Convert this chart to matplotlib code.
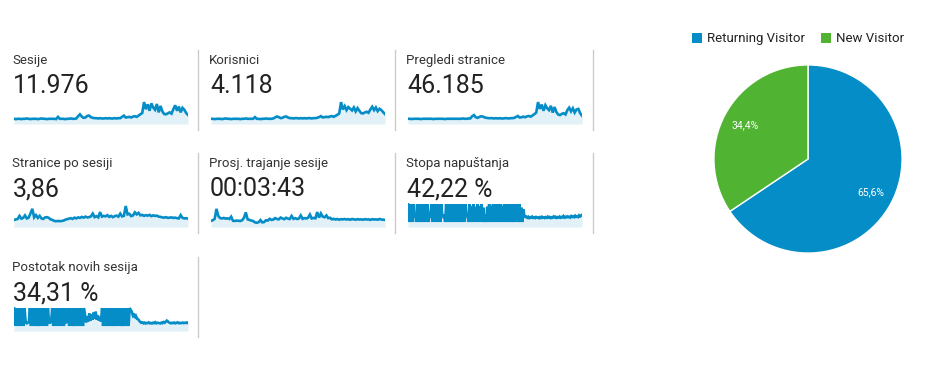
import numpy as np
import matplotlib.pyplot as plt

plt.rcParams['font.family'] = ['Roboto', 'DejaVu Sans']

W, H = 950, 376

# tile labels and headline values
labels = ["Sesije", "Korisnici", "Pregledi stranice",
          "Stranice po sesiji", "Prosj. trajanje sesije", "Stopa napuštanja",
          "Postotak novih sesija"]
values = ["11.976", "4.118", "46.185", "3,86", "00:03:43", "42,22 %", "34,31 %"]

sesije = [10, 9, 10, 10, 9, 10, 10, 11, 10, 9, 10, 10, 10, 9, 10, 11, 10, 10, 9, 10, 10, 10, 10, 9,
          16, 10, 10, 10, 9, 10, 10, 11, 10, 10, 11, 18, 24, 17, 13, 14, 19, 20, 15,
          13, 12, 12, 11, 12, 11, 11, 12, 11, 12, 11, 11, 12, 11, 12, 12,
          16, 20, 14, 15, 16, 14, 17, 18, 16, 20, 24, 28,
          62, 40, 55, 35, 58, 45, 38, 56, 30, 50, 33,
          25, 24, 27, 30, 26,
          40, 52, 35, 48, 30, 44, 38, 28, 22]

korisnici = [10, 10, 9, 10, 10, 10, 9, 10, 11, 10, 10, 9, 10, 10, 10, 10, 9, 10, 10, 11, 10, 10, 10, 10,
             15, 10, 10, 9, 10, 10, 11, 10, 10, 10, 11, 14, 17, 15, 12, 13, 16, 17, 14,
             12, 12, 11, 12, 12, 11, 12, 11, 12, 11, 12, 12, 11, 12, 12, 13,
             15, 18, 14, 15, 16, 15, 17, 18, 16, 19, 22, 26,
             60, 38, 48, 36, 45, 40, 35, 44, 32, 42, 34,
             27, 26, 29, 31, 28,
             38, 46, 36, 44, 33, 40, 36, 30, 24]

pregledi = [10, 10, 9, 10, 10, 10, 10, 9, 10, 10, 10, 10, 10, 10, 9, 10, 10, 10, 10, 10, 9, 10, 10, 10,
            10, 10, 10, 10, 10, 10, 11, 10, 10, 11, 11, 18, 22, 15, 13, 16, 18, 17, 14,
            13, 12, 12, 12, 11, 12, 11, 12, 11, 11, 12, 12, 11, 12, 12, 13,
            16, 19, 14, 15, 17, 15, 18, 19, 17, 21, 25, 30,
            64, 42, 56, 36, 54, 44, 38, 52, 30, 48, 32,
            24, 22, 26, 28, 24,
            38, 46, 34, 44, 30, 40, 42, 28, 20]

stranice_po_sesiji = [3.4, 3.6, 3.8, 5.0, 3.9, 4.2, 5.2, 4.0, 4.3, 6.0, 7.8, 4.4, 5.3, 4.2, 5.0, 4.0,
                      3.8, 4.4, 4.5, 4.2, 3.6, 3.4, 3.0, 2.9, 3.0, 2.9, 3.0, 3.1, 3.5, 3.7, 3.9, 4.1,
                      3.8, 4.3, 4.0, 4.4, 4.2, 4.6, 4.3, 4.7, 4.4, 4.5, 4.8, 5.9, 4.5, 4.9, 4.4, 6.5,
                      4.7, 5.0, 4.8, 5.3, 4.6, 5.0, 4.5, 4.9, 5.1, 4.7, 5.9, 4.8, 5.0, 8.9, 5.6, 5.8,
                      4.9, 5.2, 6.4, 5.6, 6.2, 5.2, 5.4, 5.0, 5.3, 5.1, 5.4, 4.9, 5.2, 5.0, 5.1, 4.7,
                      4.6, 4.4, 4.3, 4.5, 4.2, 4.3, 4.4, 4.2, 4.3, 4.1, 4.0, 5.3, 4.2, 4.0, 4.1, 3.9]

trajanje = [150, 180, 260, 820, 420, 300, 280, 310, 270, 290, 250, 380, 150, 140, 160, 150,
            140, 180, 320, 620, 230, 200, 160, 140, 60, 40, 70, 190, 60, 80, 180, 160,
            260, 200, 220, 300, 250, 230, 330, 280, 240, 320, 270, 250, 420, 260, 300, 250,
            280, 450, 260, 300, 280, 320, 500, 280, 310, 290, 640, 330, 560, 380, 350, 450,
            300, 320, 230, 260, 220, 250, 210, 240, 230, 250, 220, 240, 210, 250, 230, 210,
            240, 220, 230, 210, 240, 220, 230, 200, 240, 220, 230, 210, 250, 220, 210, 200]

stopa_napustanja = [100, 0, 100, 0, 100, 0, 100, 35, 30,
                    0, 100, 0, 100, 0, 100, 0, 100, 0, 100, 0, 100, 0, 40, 35,
                    100, 0, 100, 0, 100, 0, 100, 0, 100, 0, 100, 40, 30, 38,
                    0, 100, 0, 100, 0, 100, 0, 100, 35,
                    0, 100, 0, 100, 40,
                    0, 100, 0, 100, 0, 100, 0, 100, 30, 38,
                    0, 100, 0, 90, 0, 100, 0, 85, 0, 100, 0, 90, 0, 100, 0, 80, 0, 40,
                    0, 85, 0, 100, 0, 90, 0, 100, 35,
                    0, 100, 0, 100, 40,
                    0, 100, 0, 90, 0, 100, 0, 100, 35,
                    0, 100, 0, 100, 0, 40, 100, 0, 100, 40,
                    0, 100, 0, 80, 0, 70,
                    35, 28, 30, 24, 29, 22, 27, 25, 30, 23, 26, 22, 28, 24, 25, 21, 27, 23, 29, 24,
                    26, 22, 27, 24, 30, 25, 28, 22, 26, 24, 31, 26, 29, 23, 27, 25, 30, 24, 28, 26,
                    33, 25, 29, 26, 31, 27, 29, 25, 33, 28, 31, 27, 35, 29, 32, 28, 37, 31, 35, 40]

nove_sesije = [100, 0, 100, 0, 100, 0, 100, 0, 100, 0, 100,
               20, 15, 18, 22,
               100, 0, 100, 0, 100, 0, 100, 25,
               0, 100, 0, 100, 0, 100, 0, 100, 0, 100, 20, 18, 25,
               100, 0, 100, 0, 100, 0, 100, 0, 100, 0, 100, 0, 100, 20, 22,
               100, 0, 100, 0, 100, 0, 25,
               100, 0, 100, 0, 100, 0, 100, 0, 100,
               60, 20, 55, 25, 70, 30, 65, 35, 75, 40, 80, 35, 60, 30, 50, 25,
               100, 0, 100, 0, 100, 0, 100, 0, 100, 30,
               0, 100, 0, 100, 0, 100, 0, 100, 25,
               0, 100, 0, 100, 0, 100, 0, 100, 90,
               80, 60, 70, 45, 55, 40, 38, 30,
               22, 18, 20, 15, 19, 14, 17, 16, 20, 15, 17, 14, 18, 16, 21, 15, 18, 17, 16, 14,
               19, 16, 22, 18, 24, 30, 26, 20, 17, 15, 18, 16, 19, 15, 17, 20, 16, 18, 15, 17,
               19, 16, 18, 17, 20, 16]

series = [sesije, korisnici, pregledi, stranice_po_sesiji, trajanje, stopa_napustanja, nove_sesije]
ylims = [(-6.2, 68.5), (-5.6, 66.3), (-6.9, 70.8), (0.6, 10.1), (-200, 1150), (-28, 106), (-28, 106)]

visitor_types = ["Returning Visitor", "New Visitor"]
visitor_share = [65.6, 34.4]

BLUE = "#058dc7"
GREEN = "#50b432"
FILL = "#e2f0f8"


def px_axes(fig, x0, y0, x1, y1):
    # pixel box (top-left origin) -> figure axes
    return fig.add_axes([x0 / W, 1 - y1 / H, (x1 - x0) / W, (y1 - y0) / H])


fig = plt.figure(figsize=(W / 100, H / 100), dpi=100)
fig.patch.set_facecolor("white")

bg = fig.add_axes([0, 0, 1, 1])
bg.set_xlim(0, W)
bg.set_ylim(H, 0)
bg.axis("off")

col_x = [12, 209, 406]
sep_x = [198, 395, 593]
row_y = [64, 167, 271]   # label baselines

for i, (lab, val, data, yl) in enumerate(zip(labels, values, series, ylims)):
    r, c = divmod(i, 3)
    x0 = col_x[c]
    yb = row_y[r]
    bg.text(x0, yb, lab, fontsize=9.5, color="#333333", va="baseline", ha="left")
    bg.text(x0 + 1, yb + 29, val, fontsize=18, color="#222222", va="baseline", ha="left")
    bg.plot([sep_x[c], sep_x[c]], [yb - 14, yb + 66], color="#cccccc", lw=1)

    ax = px_axes(fig, x0 + 2, yb + 36, x0 + 176, yb + 60)
    xs = np.arange(len(data))
    ax.fill_between(xs, data, yl[0], color=FILL, lw=0)
    ax.plot(xs, data, color=BLUE, lw=1.9, solid_joinstyle="miter")
    ax.set_xlim(0, len(data) - 1)
    ax.set_ylim(*yl)
    ax.axis("off")

# pie
pax = px_axes(fig, 713, 64, 903, 254)
wedges, _, autotexts = pax.pie(
    visitor_share, colors=[BLUE, GREEN], startangle=90, counterclock=False,
    autopct=lambda p: f"{p:.1f}%".replace(".", ","), pctdistance=0.76,
    wedgeprops=dict(edgecolor="white", linewidth=1), textprops=dict(color="white", fontsize=7.5))
pax.set_xlim(-1.01, 1.01)
pax.set_ylim(-1.01, 1.01)
pax.set_aspect("equal")

# legend
leg_x = [692, 821]
for lx, name, colr in zip(leg_x, visitor_types, [BLUE, GREEN]):
    bg.add_patch(plt.Rectangle((lx, 33), 10, 10, color=colr, lw=0))
    bg.text(lx + 15, 38.5, name, fontsize=9.5, color="#222222", va="center", ha="left")

fig.savefig("out.png", dpi=100)
